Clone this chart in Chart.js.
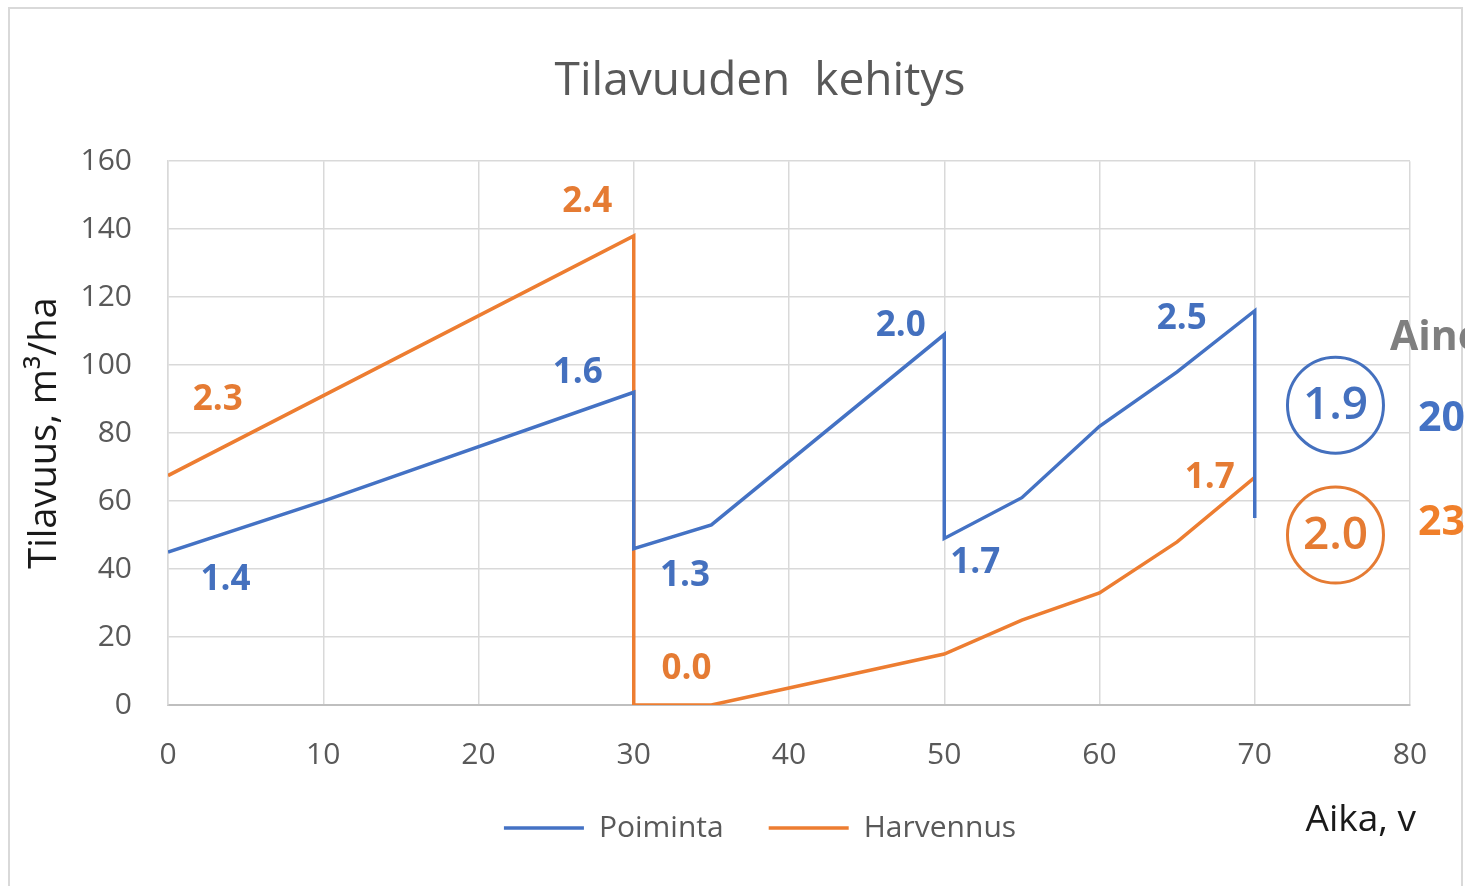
<!DOCTYPE html>
<html>
<head>
<meta charset="utf-8">
<script src="https://cdn.jsdelivr.net/npm/chart.js@4.4.1/dist/chart.umd.min.js"></script>
<style>
  html, body { margin: 0; padding: 0; background: #ffffff; }
  #wrap { width: 1465px; height: 886px; position: relative; }
</style>
</head>
<body>
<div id="wrap"><canvas id="c" width="1465" height="886"></canvas></div>
<script>
// ---- Data ----
const titleText = 'Tilavuuden  kehitys';
const yAxisTitle = 'Tilavuus, m³/ha';
const xAxisTitle = 'Aika, v';
const seriesNames = ['Poiminta', 'Harvennus'];

const poimintaX = [0, 10, 30, 30, 35, 50, 50, 55, 60, 65, 70, 70];
const poimintaY = [45, 60, 92, 46, 53, 109, 49, 61, 82, 98, 116, 55];

const harvennusX = [0, 30, 30, 35, 40, 45, 50, 55, 60, 65, 70];
const harvennusY = [67.5, 138, 0, 0, 5, 10, 15, 25, 33, 48, 67];

// growth labels
const labelX = [3.7, 26.4, 47.2, 65.3, 33.3, 52.0, 3.2, 27.0, 33.4, 67.1];
const labelY = [36.8, 97.6, 111.5, 113.5, 37.9, 41.8, 89.7, 147.9, 10.6, 66.8];
const labelText = ['1.4', '1.6', '2.0', '2.5', '1.3', '1.7', '2.3', '2.4', '0.0', '1.7'];
const labelSeries = [0, 0, 0, 0, 0, 0, 1, 1, 1, 1];

// circled averages
const avgX = [75.2, 75.2];
const avgY = [88.2, 50];
const avgText = ['1.9', '2.0'];

// right-hand (cut-off) side notes
const sideText = ['Aine', '20', '23'];
const sideY = [108, 84, 53.5];

const colors = ['#4472C4', '#ED7D31'];
const labelColors = ['#4470BE', '#E57B33'];
const sideColors = ['#7f7f7f', '#4472C4', '#F07F2A'];

const toPts = (xs, ys) => xs.map((x, i) => ({x: x, y: ys[i]}));

const FONT = "'Open Sans', 'Noto Sans', sans-serif";

const overlay = {
  id: 'overlay',
  beforeDraw(chart) {
    const ctx = chart.ctx;
    ctx.save();
    ctx.fillStyle = '#ffffff';
    ctx.fillRect(0, 0, chart.width, chart.height);
    ctx.strokeStyle = '#d9d9d9';
    ctx.lineWidth = 2;
    ctx.beginPath();
    ctx.moveTo(9, 900);
    ctx.lineTo(9, 8);
    ctx.lineTo(1462, 8);
    ctx.lineTo(1462, 900);
    ctx.stroke();
    ctx.restore();
  },
  afterDraw(chart) {
    const ctx = chart.ctx;
    const xs = chart.scales.x, ys = chart.scales.y;
    const ca = chart.chartArea;
    ctx.save();
    ctx.textAlign = 'center';
    ctx.textBaseline = 'middle';
    // data labels
    ctx.font = "bold 35px " + FONT;
    labelText.forEach((t, i) => {
      ctx.fillStyle = labelColors[labelSeries[i]];
      ctx.fillText(t, xs.getPixelForValue(labelX[i]), ys.getPixelForValue(labelY[i]));
    });
    // circled averages
    avgText.forEach((t, i) => {
      const cx = xs.getPixelForValue(avgX[i]);
      const cy = ys.getPixelForValue(avgY[i]);
      ctx.beginPath();
      ctx.arc(cx, cy, 48, 0, Math.PI * 2);
      ctx.strokeStyle = labelColors[i];
      ctx.lineWidth = 3;
      ctx.stroke();
      ctx.fillStyle = labelColors[i];
      ctx.font = "600 46px " + FONT;
      ctx.fillText(t, cx, cy + 1);
    });
    // side notes (cut off at the right edge)
    ctx.textAlign = 'left';
    ctx.font = "bold 41px " + FONT;
    sideText.forEach((t, i) => {
      ctx.fillStyle = sideColors[i];
      const x = i === 0 ? ca.right - 20 : ca.right + 8;
      ctx.fillText(t, x, ys.getPixelForValue(sideY[i]));
    });
    // x axis title
    ctx.textAlign = 'right';
    ctx.font = "37px " + FONT;
    ctx.fillStyle = '#1a1a1a';
    ctx.fillText(xAxisTitle, ca.right + 6, 820);
    ctx.restore();
  }
};

new Chart(document.getElementById('c'), {
  type: 'line',
  data: {
    datasets: [
      {
        label: seriesNames[0],
        data: toPts(poimintaX, poimintaY),
        borderColor: colors[0],
        backgroundColor: colors[0],
        borderWidth: 3.5,
        pointRadius: 0,
        tension: 0,
        pointStyle: 'line'
      },
      {
        label: seriesNames[1],
        data: toPts(harvennusX, harvennusY),
        borderColor: colors[1],
        backgroundColor: colors[1],
        borderWidth: 3.5,
        pointRadius: 0,
        tension: 0,
        pointStyle: 'line'
      }
    ]
  },
  options: {
    responsive: false,
    animation: false,
    layout: { padding: { left: 55, right: 0, top: 10, bottom: 33 } },
    plugins: {
      title: {
        display: true,
        text: titleText,
        color: '#595959',
        font: { family: FONT, size: 46, weight: 'normal' },
        padding: { top: 44, bottom: 52 }
      },
      legend: {
        display: true,
        position: 'bottom',
        labels: {
          usePointStyle: true,
          pointStyleWidth: 80,
          color: '#595959',
          font: { family: FONT, size: 30 },
          padding: 45
        }
      },
      tooltip: { enabled: false }
    },
    scales: {
      x: {
        type: 'linear',
        min: 0, max: 80,
        ticks: { stepSize: 10, color: '#595959', font: { family: FONT, size: 30 }, padding: 32 },
        grid: { color: '#d9d9d9', lineWidth: 1.5, drawTicks: false },
        border: { color: '#bfbfbf', width: 2 },
        afterFit(s) { s.height = 63; }
      },
      y: {
        min: 0, max: 160,
        ticks: { stepSize: 20, color: '#595959', font: { family: FONT, size: 30 }, padding: 36 },
        grid: { color: '#d9d9d9', lineWidth: 1.5, drawTicks: false },
        border: { color: '#d9d9d9', width: 1.5 },
        title: {
          display: true,
          text: yAxisTitle,
          color: '#1a1a1a',
          font: { family: FONT, size: 38 },
          padding: { top: -33, bottom: 0 }
        },
        afterFit(s) { s.width = 113; }
      },
      yRight: {
        position: 'right',
        min: 0, max: 160,
        display: true,
        ticks: { display: false },
        grid: { display: false, drawTicks: false },
        border: { display: false },
        afterFit(s) { s.width = 55; }
      }
    }
  },
  plugins: [overlay]
});
</script>
</body>
</html>
